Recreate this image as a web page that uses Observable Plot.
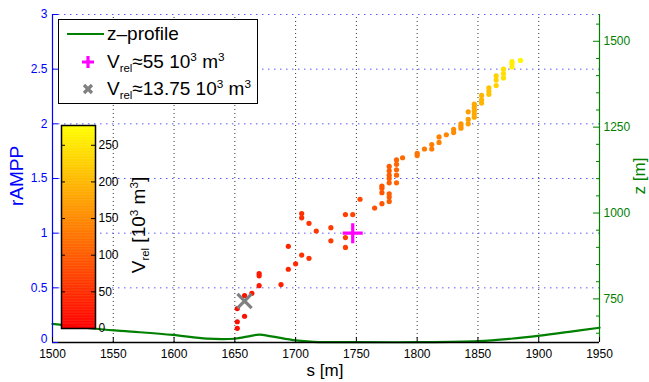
<!DOCTYPE html>
<html><head><meta charset="utf-8">
<script src="https://cdn.jsdelivr.net/npm/d3@7"></script>
<script src="https://cdn.jsdelivr.net/npm/@observablehq/plot@0.6"></script>
<style>
body{margin:0;background:#fff;}
#wrap{position:relative;width:649px;height:382px;font-family:"Liberation Sans",Arial,sans-serif;overflow:hidden;}
#wrap svg{overflow:visible;}
.abs{position:absolute;}
.lbl{position:absolute;white-space:nowrap;transform:translate(-50%,-50%);line-height:1;}
.rot{transform:translate(-50%,-50%) rotate(-90deg);}
.sub{font-size:0.6em;position:relative;top:0.35em;}
.sup{font-size:0.62em;position:relative;top:-0.6em;}
#legend{position:absolute;left:58px;top:19px;width:200px;height:85px;border:1px solid #000;background:#fff;box-sizing:border-box;font-size:19px;}
.row{position:absolute;left:0;height:24px;display:flex;align-items:center;white-space:nowrap;}
.row svg{width:48px;height:24px;flex:none;}
</style></head><body><div id="wrap"></div>
<script>
// ---- data ----
const xTicks = [1500,1550,1600,1650,1700,1750,1800,1850,1900,1950];
const yTicks = [0,0.5,1,1.5,2,2.5,3];
const yTickLabels = ["0","0.5","1","1.5","2","2.5","3"];
const zTicks = [750,1000,1250,1500];
const zMinorTicks = [650,700,800,850,900,950,1050,1100,1150,1200,1300,1350,1400,1450,1550];
const cbTicks = [0,50,100,150,200,250];

// z-profile (s [m], z [m])
const profS = [1500,1535,1560,1599,1627,1650,1660,1670,1680,1700,1715,1750,1800,1850,1877,1901,1925,1950];
const profZ = [677,663,656,645,634,634,640,646,641,629,625,624,624,627,634,643,654,666];

// scatter points: s, rAMPP, V_rel [10^3 m^3]
const ptS = [1652,1652,1652, 1658,1658, 1664, 1670,1670,1670, 1688, 1694,1694, 1700,
  1705,1705,1705, 1711,1711, 1717, 1729,1729, 1741,1741,1741, 1747, 1753, 1765,
  1771,1771,1771,1771, 1777,1777,1777,1777,1777,1777,1777,1777,
  1783,1783,1783,1783,1783, 1788, 1800,1800, 1806, 1812,1812, 1818,1818, 1824,
  1830,1830, 1836,1836,1836, 1842,1842,1842, 1847,1847,1847,1847,1847,
  1853,1853,1853, 1859,1859,1859, 1865,1865,1865, 1871,1871,1871, 1878,1878,1878, 1885];
const ptR = [0.13,0.19,0.31, 0.24,0.43, 0.45, 0.52,0.61,0.63, 0.53, 0.67,0.88, 0.72,
  0.80,1.14,1.18, 0.77,1.09, 1.02, 1.05,0.93, 0.96,0.87,1.17, 1.17, 1.31, 1.23,
  1.27,1.37,1.41,1.43, 1.29,1.33,1.36,1.46,1.50,1.53,1.57,1.61,
  1.46,1.53,1.58,1.63,1.67, 1.69, 1.71,1.73, 1.77, 1.77,1.81, 1.83,1.88, 1.90,
  1.92,1.95, 1.96,1.98,2.00, 2.00,2.04,2.11, 2.06,2.09,2.12,2.15,2.18,
  2.19,2.22,2.26, 2.27,2.30,2.33, 2.35,2.40,2.44, 2.42,2.46,2.50, 2.52,2.55,2.57, 2.58];
const ptV = [15,15,15, 18,18, 22, 26,26,26, 35, 40,40, 45,
  52,52,52, 56,56, 60, 65,65, 70,70,70, 73, 78, 88,
  95,95,95,95, 102,102,102,102,102,102,102,102,
  110,110,110,110,110, 115, 125,125, 130, 135,135, 140,140, 146,
  152,152, 160,160,160, 172,172,172, 185,185,185,185,185,
  198,198,198, 212,212,212, 228,228,228, 242,242,242, 258,258,258, 270];

// highlighted markers
const plusS = [1747], plusR = [1.00];      // V_rel ≈ 55
const crossS = [1658], crossR = [0.38];    // V_rel ≈ 13.75

const vMax = 277;
const zDomain = [623, 1578];

// ---- build ----
const zToY = z => (z - zDomain[0]) / (zDomain[1] - zDomain[0]) * 3;
const yToZ = y => zDomain[0] + y / 3 * (zDomain[1] - zDomain[0]);
const pts = ptS.map((d,i)=>({s:d, r:ptR[i], v:ptV[i]}));
const prof = profS.map((d,i)=>({s:d, y:zToY(profZ[i])}));
const plusPts = plusS.map((d,i)=>({s:d, r:plusR[i]}));
const crossPts = crossS.map((d,i)=>({s:d, r:crossR[i]}));
const colorScale = {type:"linear", domain:[0, vMax], range:["#ff0000","#ffff00"]};
const BLUE = "#0000ff", GREEN = "#008000";
const yFmt = d => yTickLabels[yTicks.indexOf(d)];

const main = Plot.plot({
  width:649, height:382, marginLeft:52, marginRight:50, marginTop:14, marginBottom:40,
  style:{fontFamily:"Liberation Sans, Arial, sans-serif", fontSize:"12px", background:"transparent"},
  x:{domain:[1500,1950]}, y:{domain:[0,3]},
  color: colorScale,
  marks:[
    Plot.ruleX(xTicks.slice(1,-1), {x:d=>d, y1:0, y2:3, stroke:"#333", strokeDasharray:"1,3", strokeWidth:1}),
    Plot.ruleY(yTicks.slice(1), {y:d=>d, x1:1500, x2:1950, stroke:"#5a5aff", strokeDasharray:"1.5,4.5", strokeWidth:1}),
    Plot.line(prof, {x:"s", y:"y", stroke:GREEN, strokeWidth:2.2, curve:"catmull-rom"}),
    Plot.dot(pts, {x:"s", y:"r", fill:"v", r:2.6}),
    Plot.dot(plusPts, {x:"s", y:"r", symbol:"plus", stroke:"#ff00ff", strokeWidth:3.2, r:6.5}),
    Plot.dot(crossPts, {x:"s", y:"r", symbol:"times", stroke:"#808080", strokeWidth:3.2, r:6.5}),
    // axis lines
    Plot.ruleY([0], {y:d=>d, x1:1500, x2:1950, stroke:"#000", strokeWidth:1.5}),
    Plot.ruleX([1500], {x:d=>d, y1:0, y2:3, stroke:BLUE, strokeWidth:1.2}),
    Plot.ruleX([1950], {x:d=>d, y1:0, y2:3, stroke:GREEN, strokeWidth:1.2}),
    // inward ticks
    Plot.tickX(xTicks, {x:d=>d, insetTop:323, stroke:"#000"}),
    Plot.tickY(yTicks, {y:d=>d, insetRight:541, stroke:BLUE}),
    Plot.tickY(zTicks.map(zToY), {y:d=>d, insetLeft:541, stroke:GREEN}),
    Plot.tickY(zMinorTicks.map(zToY), {y:d=>d, insetLeft:544, stroke:GREEN}),
    // tick labels
    Plot.axisX({ticks:xTicks, tickSize:0, tickPadding:7, tickFormat:d=>String(d), label:null, fill:"#000"}),
    Plot.axisY({ticks:yTicks.slice(1), tickSize:0, tickPadding:5, tickFormat:yFmt, label:null, fill:BLUE}),
    Plot.axisY({ticks:yTicks.slice(0,1), tickSize:0, tickPadding:5, tickFormat:yFmt, label:null, fill:BLUE, dy:-3}),
    Plot.axisY({anchor:"right", ticks:zTicks.map(zToY), tickSize:0, tickPadding:4, tickFormat:d=>String(Math.round(yToZ(d))), label:null, fill:GREEN})
  ]
});

const cb = Plot.plot({
  width:110, height:213, marginLeft:0, marginRight:76, marginTop:0, marginBottom:10,
  style:{fontFamily:"Liberation Sans, Arial, sans-serif", fontSize:"12px", background:"transparent"},
  x:{domain:[0,1], axis:null}, y:{domain:[0,vMax], axis:null},
  color: colorScale,
  marks:[
    Plot.rect(d3.range(0, vMax, 1), {x1:0, x2:1, y1:d=>d, y2:d=>Math.min(d+1.6, vMax), fill:d=>d+0.5}),
    Plot.frame({stroke:"#000", strokeWidth:1.5}),
    Plot.tickY(cbTicks, {y:d=>d, insetLeft:30, stroke:"#000"}),
    Plot.tickY(cbTicks, {y:d=>d, insetRight:30, stroke:"#000"}),
    Plot.axisY({anchor:"right", ticks:cbTicks, tickSize:0, tickPadding:3, tickFormat:d=>String(d), label:null, fill:"#000"})
  ]
});

const wrap = document.getElementById("wrap");
const m = document.createElement("div"); m.className="abs"; m.style.left="0px"; m.style.top="0px";
m.appendChild(main); wrap.appendChild(m);
const c = document.createElement("div"); c.className="abs"; c.style.left="61px"; c.style.top="125px";
c.appendChild(cb); wrap.appendChild(c);

function addLabel(html, x, y, size, color, rot){
  const d = document.createElement("div");
  d.className = "lbl" + (rot ? " rot" : "");
  d.style.left = x+"px"; d.style.top = y+"px"; d.style.fontSize = size+"px"; d.style.color = color;
  d.innerHTML = html; wrap.appendChild(d);
}
addLabel("s [m]", 325, 370, 17, "#000", false);
addLabel("rAMPP", 16, 176, 19, BLUE, true);
addLabel("z [m]", 639, 176, 17, GREEN, true);
addLabel('V<span class="sub">rel</span> [10<span class="sup">3</span> m<span class="sup">3</span>]', 138, 225, 19, "#000", true);

const lg = document.createElement("div"); lg.id="legend";
lg.innerHTML =
 '<div class="row" style="top:2px"><svg><line x1="8" x2="45" y1="12" y2="12" stroke="'+GREEN+'" stroke-width="2.2"/></svg><span>z\u2013profile</span></div>' +
 '<div class="row" style="top:30px"><svg><path d="M29,6V18M23,12H35" stroke="#ff00ff" stroke-width="3.2"/></svg><span>V<span class="sub">rel</span>\u224855 10<span class="sup">3</span> m<span class="sup">3</span></span></div>' +
 '<div class="row" style="top:57px"><svg><path d="M25,8L33,16M33,8L25,16" stroke="#808080" stroke-width="3.2"/></svg><span>V<span class="sub">rel</span>\u224813.75 10<span class="sup">3</span> m<span class="sup">3</span></span></div>';
wrap.appendChild(lg);
</script></body></html>
